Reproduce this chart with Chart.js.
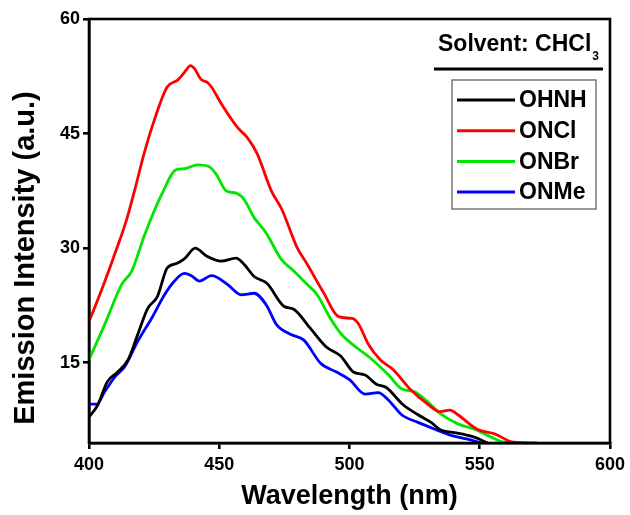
<!DOCTYPE html>
<html><head><meta charset="utf-8">
<script src="https://cdn.jsdelivr.net/npm/chart.js@4/dist/chart.umd.min.js"></script>
<style>html,body{margin:0;padding:0;background:#fff;}</style>
</head><body>
<canvas id="c" width="630" height="515"></canvas>
<script>
const seriesNames = ["OHNH", "ONCl", "ONBr", "ONMe"];
const seriesColors = ["#000000", "#ff0000", "#00e600", "#0000ff"];

const ohnhX = [400, 403.4, 407, 411, 415, 418.7, 422.5, 426.3, 430, 433.6, 436.6, 440.8, 445, 450.8, 456.5, 459.5, 463.4, 468.3, 474.8, 478.6, 485, 491, 496.6, 501.5, 506, 510.3, 514, 520.6, 526.3, 531.3, 535, 539.7, 545.4, 548.5, 553];
const ohnhY = [7.9, 9.5, 12.5, 13.8, 15.4, 18.7, 22.1, 23.7, 27.4, 28, 28.6, 30, 29, 28.3, 28.7, 27.9, 26.3, 25.4, 22.4, 22, 19.5, 17.1, 15.9, 13.8, 13.4, 12.2, 11.8, 9.5, 8.2, 7.2, 6.2, 5.9, 5.5, 5.2, 4.5];

const onclX = [400, 404, 409, 414.5, 418, 421, 425, 430, 434, 436.6, 439, 440.5, 443, 445.4, 447, 450.8, 457, 460.7, 464.5, 470, 474, 480, 483.6, 490, 496, 501, 503.4, 507.3, 511.8, 516.8, 523.7, 530, 534.7, 538.5, 541.6, 549, 555.7, 563, 572];
const onclY = [20.4, 23.8, 28.4, 33.8, 38.2, 42.2, 46.7, 51.1, 52, 53, 53.9, 53.5, 52.1, 51.7, 51.1, 48.9, 45.8, 44.5, 42.4, 37.5, 35.1, 30, 28, 24.2, 21, 20.8, 20.1, 17.4, 15.4, 14.1, 11.4, 9.6, 8.6, 8.8, 8.2, 6.3, 5.7, 4.6, 4.5];

const onbrX = [400, 406, 412.6, 416.4, 421.4, 428, 433.6, 436.6, 441.6, 446, 448.8, 452.7, 456.5, 459.5, 463.4, 468, 473.7, 478.6, 483.6, 487.4, 492.5, 497, 502.3, 508.4, 515, 520, 525, 530, 535, 541.6, 548, 553, 559.5, 568];
const onbrY = [15.4, 20, 25.3, 27, 31.8, 37.1, 40.3, 40.4, 40.9, 40.7, 39.7, 37.5, 37.2, 36.4, 34, 32, 28.6, 27, 25.3, 24, 20.9, 18.7, 17.1, 15.5, 13.4, 11.6, 11.2, 9.9, 8.3, 7, 6.3, 5.5, 4.6, 4.5];

const onmeX = [400, 403, 406, 410, 413.7, 418.7, 424, 429, 432.8, 436.6, 439.3, 442.4, 447, 453, 458.4, 463.4, 468, 472, 477.5, 482.4, 489, 495, 500, 506, 511, 515, 520, 526.3, 532.8, 539, 545.4, 550.4];
const onmeY = [9.6, 9.6, 11.2, 13.2, 14.5, 17.8, 20.8, 23.9, 25.7, 26.7, 26.4, 25.7, 26.4, 25.3, 23.9, 24.1, 22.6, 20, 18.7, 18, 14.9, 13.8, 12.8, 10.9, 11.1, 10.1, 8.2, 7.2, 6.3, 5.5, 5, 4.5];

const xTickValues = [400, 450, 500, 550, 600];
const yTickValues = [15, 30, 45, 60];
const xTitle = "Wavelength (nm)";
const yTitle = "Emission Intensity (a.u.)";
const legendTitle = "Solvent: CHCl";
const legendTitleSub = "3";

const seriesX = [ohnhX, onclX, onbrX, onmeX];
const seriesY = [ohnhY, onclY, onbrY, onmeY];

const FONT = "'Liberation Sans', Arial, sans-serif";
Chart.defaults.font.family = FONT;
Chart.defaults.font.weight = 'bold';
Chart.defaults.color = '#000';

const datasets = seriesNames.map((name, i) => ({
  label: name,
  data: seriesX[i].map((x, j) => ({x: x, y: seriesY[i][j]})),
  borderColor: seriesColors[i],
  backgroundColor: seriesColors[i],
  borderWidth: 2.8,
  pointRadius: 0,
  cubicInterpolationMode: 'monotone',
  fill: false
}));

const framePlugin = {
  id: 'frame',
  afterDatasetsDraw(chart) {
    const {ctx, chartArea: a} = chart;
    ctx.save();
    ctx.strokeStyle = '#000';
    ctx.lineWidth = 2.6;
    ctx.strokeRect(a.left, a.top, a.right - a.left, a.bottom - a.top);
    ctx.restore();
  },
  afterDraw(chart) {
    const ctx = chart.ctx;
    ctx.save();
    // y axis title
    ctx.fillStyle = '#000';
    ctx.translate(26, 258);
    ctx.rotate(-Math.PI / 2);
    ctx.textAlign = 'center';
    ctx.textBaseline = 'middle';
    ctx.font = "bold 29px " + FONT;
    ctx.fillText(yTitle, 0, 0);
    ctx.restore();

    ctx.save();
    // legend title
    ctx.fillStyle = '#000';
    ctx.textBaseline = 'middle';
    ctx.textAlign = 'left';
    ctx.font = "bold 23px " + FONT;
    ctx.fillText(legendTitle, 438, 45);
    const w = ctx.measureText(legendTitle).width;
    ctx.font = "bold 12px " + FONT;
    ctx.fillText(legendTitleSub, 438 + w + 1, 57);
    ctx.strokeStyle = '#000';
    ctx.lineWidth = 3;
    ctx.beginPath();
    ctx.moveTo(434, 69);
    ctx.lineTo(603, 69);
    ctx.stroke();
    // legend box
    ctx.strokeStyle = '#555';
    ctx.lineWidth = 1.2;
    ctx.strokeRect(452, 80, 144, 129);
    chart.data.datasets.forEach((ds, i) => {
      const y = 100 + i * 30.7;
      ctx.strokeStyle = ds.borderColor;
      ctx.lineWidth = 3;
      ctx.beginPath();
      ctx.moveTo(457, y);
      ctx.lineTo(515, y);
      ctx.stroke();
      ctx.fillStyle = '#000';
      ctx.font = "bold 23px " + FONT;
      ctx.fillText(ds.label, 519, y + 1);
    });
    ctx.restore();
  }
};

new Chart(document.getElementById('c'), {
  type: 'line',
  data: { datasets },
  options: {
    responsive: false,
    animation: false,
    layout: { padding: { left: 0, top: 19, right: 17, bottom: 0 } },
    plugins: { legend: { display: false }, tooltip: { enabled: false } },
    scales: {
      x: {
        type: 'linear',
        min: 400, max: 600,
        afterBuildTicks: s => { s.ticks = xTickValues.map(v => ({value: v})); },
        afterFit: s => { s.height = 72; },
        ticks: { font: { size: 18, weight: 'bold' }, padding: 5, maxRotation: 0 },
        grid: { display: true, drawOnChartArea: false, drawTicks: true, tickLength: 6, color: '#000', lineWidth: 2.6 },
        border: { display: true, color: '#000', width: 2.6 },
        title: { display: true, text: xTitle, font: { size: 27, weight: 'bold' }, padding: { top: 0, bottom: 2 } }
      },
      y: {
        type: 'linear',
        min: 4.5, max: 60,
        afterBuildTicks: s => { s.ticks = yTickValues.map(v => ({value: v})); },
        afterFit: s => { s.width = 89; },
        ticks: { font: { size: 18, weight: 'bold' }, padding: 3 },
        grid: { display: true, drawOnChartArea: false, drawTicks: true, tickLength: 6, color: '#000', lineWidth: 2.6 },
        border: { display: true, color: '#000', width: 2.6 },
        title: { display: false }
      }
    }
  },
  plugins: [framePlugin]
});
</script>
</body></html>
